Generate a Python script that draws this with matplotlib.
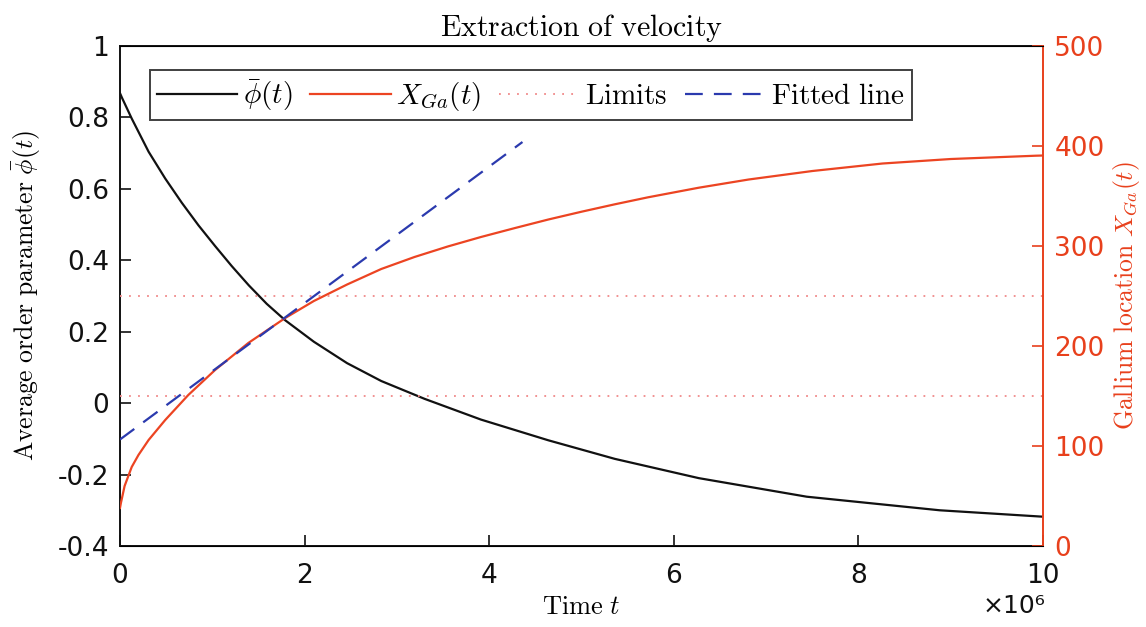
import matplotlib
matplotlib.use("Agg")
import matplotlib.pyplot as plt
from matplotlib.ticker import FuncFormatter
from matplotlib.lines import Line2D

plt.rcParams['mathtext.fontset'] = 'cm'
plt.rcParams['font.family'] = ['DejaVu Sans']

# --- data ---
t_phi = [0.0, 0.02e6, 0.127e6, 0.31e6, 0.49e6, 0.67e6, 0.85e6, 1.03e6, 1.21e6,
         1.395e6, 1.59e6, 1.79e6, 2.10e6, 2.46e6, 2.83e6, 3.30e6, 3.91e6, 4.64e6,
         5.36e6, 6.27e6, 7.44e6, 8.88e6, 10.0e6]
phi = [0.868, 0.856, 0.797, 0.704, 0.629, 0.561, 0.498, 0.440, 0.384,
       0.330, 0.278, 0.232, 0.172, 0.112, 0.062, 0.012, -0.046, -0.104,
       -0.156, -0.210, -0.262, -0.300, -0.318]

t_x = [0.0, 0.01e6, 0.05e6, 0.127e6, 0.2e6, 0.31e6, 0.49e6, 0.74e6, 1.03e6,
       1.39e6, 1.79e6, 2.10e6, 2.46e6, 2.83e6, 3.19e6, 3.55e6, 3.91e6, 4.28e6,
       4.64e6, 5.0e6, 5.36e6, 5.72e6, 6.27e6, 6.81e6, 7.5e6, 8.26e6, 9.0e6,
       9.92e6, 10.0e6]
x_ga = [38, 43, 60, 79, 91, 106, 126, 151, 176,
        203, 228, 245, 261.5, 277, 289, 299.5, 309, 318,
        326.5, 334.3, 341.7, 348.7, 358.3, 366.5, 375, 382.5, 387,
        390.3, 390.5]

fit_t = [0.0, 4.36e6]
fit_x = [106.5, 404]

limits = [150, 250]
limit_t = [0.0, 10.0e6]

x_ticks = [0, 2e6, 4e6, 6e6, 8e6, 10e6]
left_ticks = [-0.4, -0.2, 0, 0.2, 0.4, 0.6, 0.8, 1]
right_ticks = [0, 100, 200, 300, 400, 500]

# --- style ---
black = '#111111'
red = '#ec4422'
axis_red = '#e8401c'
blue = '#2b3aae'
lim_col = '#f08888'

fig = plt.figure(figsize=(11.46, 6.27), dpi=100)
ax = fig.add_axes([0.1047, 0.1292, 0.8055, 0.7974])
ax2 = ax.twinx()

ax.plot(t_phi, phi, color=black, lw=1.6, solid_joinstyle='round')
ax2.plot(t_x, x_ga, color=red, lw=1.6, solid_joinstyle='round')
for L in limits:
    ax2.plot(limit_t, [L, L], color=lim_col, lw=1.3, ls=(0, (1, 4)))
ax2.plot(fit_t, fit_x, color=blue, lw=1.6, ls=(0, (8, 5)))

ax.set_xlim(0, 10e6)
ax.set_ylim(-0.4, 1)
ax2.set_ylim(0, 500)
ax.set_xticks(x_ticks)
ax.xaxis.set_major_formatter(FuncFormatter(lambda v, p: f"{v/1e6:g}"))
ax.set_yticks(left_ticks)
ax.yaxis.set_major_formatter(FuncFormatter(lambda v, p: f"{v:g}"))
ax2.set_yticks(right_ticks)

ax.tick_params(axis='both', direction='in', length=8, width=1.2, labelsize=19,
               colors=black, pad=8)
ax.tick_params(axis='x', pad=12)
ax2.tick_params(axis='y', direction='in', length=8, width=1.2, labelsize=19,
                colors=axis_red, pad=8)
for s in ['left', 'bottom', 'top']:
    ax.spines[s].set_linewidth(1.4)
    ax.spines[s].set_color(black)
ax2.spines['right'].set_color(axis_red)
ax2.spines['right'].set_linewidth(1.4)
ax2.spines['left'].set_visible(False)
ax.spines['right'].set_visible(False)

ax.set_title(r'$\mathrm{Extraction\ of\ velocity}$', fontsize=21.5, pad=7)
ax.set_xlabel(r'$\mathrm{Time}\ t$', fontsize=19, labelpad=4)
ax.set_ylabel(r'$\mathrm{Average\ order\ parameter}\ \bar{\phi}(t)$', fontsize=18.5, labelpad=10)
ax2.set_ylabel(r'$\mathrm{Gallium\ location}\ X_{Ga}(t)$', fontsize=18.5, color=axis_red, labelpad=5)

fig.text(0.885, 0.034, '×10⁶', fontsize=18, ha='center', va='center', color=black)

handles = [Line2D([], [], color=black, lw=1.6),
           Line2D([], [], color=red, lw=1.6),
           Line2D([], [], color=lim_col, lw=1.3, ls=(0, (1, 4))),
           Line2D([], [], color=blue, lw=1.6, ls=(0, (8, 5)))]
labels = [r'$\bar{\phi}(t)$', r'$X_{Ga}(t)$', r'$\mathrm{Limits}$', r'$\mathrm{Fitted\ line}$']
leg = ax2.legend(handles, labels, loc='upper left', bbox_to_anchor=(0.0325, 0.952),
                 ncol=4, fontsize=21, frameon=True, fancybox=False, edgecolor=black,
                 handlelength=2.75, handletextpad=0.2, columnspacing=0.6,
                 borderpad=0.25, borderaxespad=0)
leg.get_frame().set_linewidth(1.4)

fig.savefig('out.png', dpi=100)
